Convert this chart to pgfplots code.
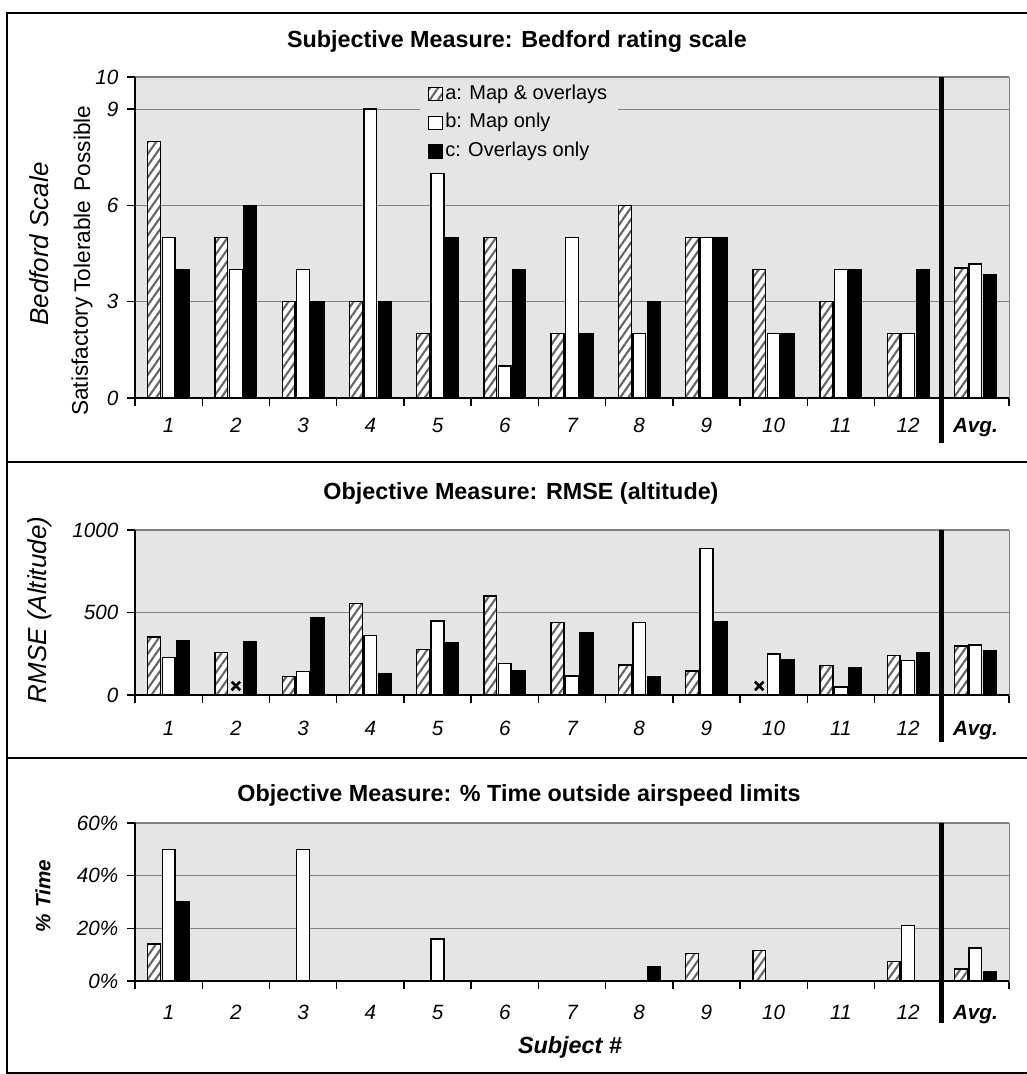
\documentclass[border=0pt]{standalone}
\usepackage{fontspec}
\setmainfont{Liberation Sans}
\usepackage{pgfplots}
\pgfplotsset{compat=1.18}
\usetikzlibrary{patterns.meta}

\definecolor{bg}{gray}{0.9}
\definecolor{gridc}{gray}{0.5}
\definecolor{hatch}{gray}{0.4}

\pgfplotsset{
  panel/.style={
    scale only axis, width=655.5pt, xmin=0.5, xmax=13.5, clip=false,
    axis background/.style={fill=bg},
    axis line style={draw=gridc, line width=0.5pt},
    ymajorgrids, grid style={draw=gridc, line width=0.9pt},
    xtick={0.5,1.5,...,13.5}, xticklabels={},
    extra x ticks={1,2,...,13},
    extra x tick labels={1,2,3,4,5,6,7,8,9,10,11,12,{\bfseries Avg.}},
    extra x tick style={major tick length=0pt, grid=none},
    tick align=outside, major tick length=6pt,
    tick style={black, line width=1pt},
    tick pos=left,
    ticklabel style={font=\itshape\fontsize{15.5}{16}\selectfont},
    /pgf/number format/assume math mode=true,
    /pgf/number format/1000 sep={},
    xticklabel style={anchor=base},
    yticklabel style={xshift=-3pt},
  },
  sa/.style={ybar, bar width=0.19, bar shift=-0.215, fill=white, draw=black, line width=1pt,
    postaction={pattern={Lines[angle=55,distance=5pt,line width=1.6pt]}, pattern color=hatch}},
  sb/.style={ybar, bar width=0.19, bar shift=0, fill=white, draw=black, line width=1pt},
  sc/.style={ybar, bar width=0.19, bar shift=0.215, fill=black, draw=black, line width=1pt},
}

\begin{document}
\begin{tikzpicture}
\useasboundingbox (0,0) rectangle (769.5pt,-805.5pt);
% frame and separators
\draw[line width=1.5pt] (790pt,-9.75pt) -- (5.25pt,-9.75pt) -- (5.25pt,-804.75pt) -- (790pt,-804.75pt);
\draw[line width=1.5pt] (5.25pt,-346.5pt) -- (790pt,-346.5pt);
\draw[line width=1.5pt] (5.25pt,-568.5pt) -- (790pt,-568.5pt);

% titles
\node[font=\bfseries\fontsize{17.5}{18}\selectfont] at (387.75pt,-31.5pt) {Subjective Measure: Bedford rating scale};
\node[font=\bfseries\fontsize{17.5}{18}\selectfont] at (390.75pt,-369.75pt) {Objective Measure: RMSE (altitude)};
\node[font=\bfseries\fontsize{17.5}{18}\selectfont] at (389.25pt,-596.25pt) {Objective Measure: \% Time outside airspeed limits};

% y labels
\node[rotate=90, font=\itshape\fontsize{19.5}{20}\selectfont] at (29.25pt,-183pt) {Bedford Scale};
\node[rotate=90, font=\fontsize{17}{18}\selectfont] at (61.5pt,-267.4pt) {Satisfactory};
\node[rotate=90, font=\fontsize{17}{18}\selectfont] at (61.5pt,-184.9pt) {Tolerable};
\node[rotate=90, font=\fontsize{17}{18}\selectfont] at (61.5pt,-111.4pt) {Possible};
\node[rotate=90, font=\itshape\fontsize{19.5}{20}\selectfont] at (30pt,-457.5pt) {RMSE (Altitude)};
\node[rotate=90, font=\bfseries\itshape\fontsize{15.5}{16}\selectfont] at (32.25pt,-672pt) {\% Time};
\node[font=\bfseries\itshape\fontsize{17.5}{18}\selectfont] at (427.5pt,-785.25pt) {Subject \#};

% ---------- top panel ----------
\begin{axis}[panel, at={(101.25pt,-298.5pt)}, anchor=south west,
  height=240.75pt, ymin=0, ymax=10, ytick={0,3,6,9,10},
  xticklabel style={yshift=-25.5pt},
  legend style={at={(0.326,0.99)}, anchor=north west, fill=bg, draw=none,
    font=\fontsize{15}{17}\selectfont, row sep=3pt,
    nodes={inner sep=2pt, text height=11pt, text depth=3.5pt},
    cells={anchor=west}, inner xsep=6pt, inner ysep=1pt},
  legend image code/.code={\draw[#1, line width=0.8pt] (0pt,-5pt) rectangle (10pt,5pt);},
]
\addplot[sa] coordinates {(1,8)(2,5)(3,3)(4,3)(5,2)(6,5)(7,2)(8,6)(9,5)(10,4)(11,3)(12,2)(13,4.05)};
\addlegendentry{a: Map \& overlays}
\addplot[sb] coordinates {(1,5)(2,4)(3,4)(4,9)(5,7)(6,1)(7,5)(8,2)(9,5)(10,2)(11,4)(12,2)(13,4.17)};
\addlegendentry{b: Map only}
\addplot[sc] coordinates {(1,4)(2,6)(3,3)(4,3)(5,5)(6,4)(7,2)(8,3)(9,5)(10,2)(11,4)(12,4)(13,3.85)};
\addlegendentry{c: Overlays only}
\draw[black, line width=1.2pt] (rel axis cs:0,1) -- (rel axis cs:0,0) -- (rel axis cs:1,0);
\draw[black, line width=3.5pt] (axis cs:12.5,10) -- ([yshift=-33.75pt]axis cs:12.5,0);
\end{axis}

% ---------- middle panel ----------
\begin{axis}[panel, at={(101.25pt,-521.25pt)}, anchor=south west,
  height=123.75pt, ymin=0, ymax=1000, ytick={0,500,1000},
  xticklabel style={yshift=-30pt},
]
\addplot[sa] coordinates {(1,352)(2,256)(3,112)(4,555)(5,276)(6,600)(7,440)(8,182)(9,146)(11,178)(12,241)(13,298)};
\addplot[sb] coordinates {(1,226)(3,142)(4,360)(5,449)(6,191)(7,115)(8,439)(9,888)(10,249)(11,49)(12,210)(13,304)};
\addplot[sc] coordinates {(1,327)(2,321)(3,470)(4,128)(5,317)(6,150)(7,375)(8,113)(9,445)(10,214)(11,168)(12,255)(13,267)};
\addplot[only marks, mark=x, mark size=4.5pt, mark options={line width=2pt, black}] coordinates {(2,55)(9.785,55)};
\draw[black, line width=1.2pt] (rel axis cs:0,1) -- (rel axis cs:0,0) -- (rel axis cs:1,0);
\draw[black, line width=3.5pt] (axis cs:12.5,1000) -- ([yshift=-35pt]axis cs:12.5,0);
\end{axis}

% ---------- bottom panel ----------
\begin{axis}[panel, at={(101.25pt,-735.75pt)}, anchor=south west,
  height=118.5pt, ymin=0, ymax=60, ytick={0,20,40,60},
  yticklabels={0\%,20\%,40\%,60\%},
  xticklabel style={yshift=-29pt},
]
\addplot[sa] coordinates {(1,14)(9,10.5)(10,11.5)(12,7.5)(13,4.5)};
\addplot[sb] coordinates {(1,50)(3,50)(5,16)(12,21)(13,12.5)};
\addplot[sc] coordinates {(1,30)(8,5.5)(13,3.5)};
\draw[black, line width=1.2pt] (rel axis cs:0,1) -- (rel axis cs:0,0) -- (rel axis cs:1,0);
\draw[black, line width=3.5pt] (axis cs:12.5,60) -- ([yshift=-31.5pt]axis cs:12.5,0);
\end{axis}
\end{tikzpicture}
\end{document}
